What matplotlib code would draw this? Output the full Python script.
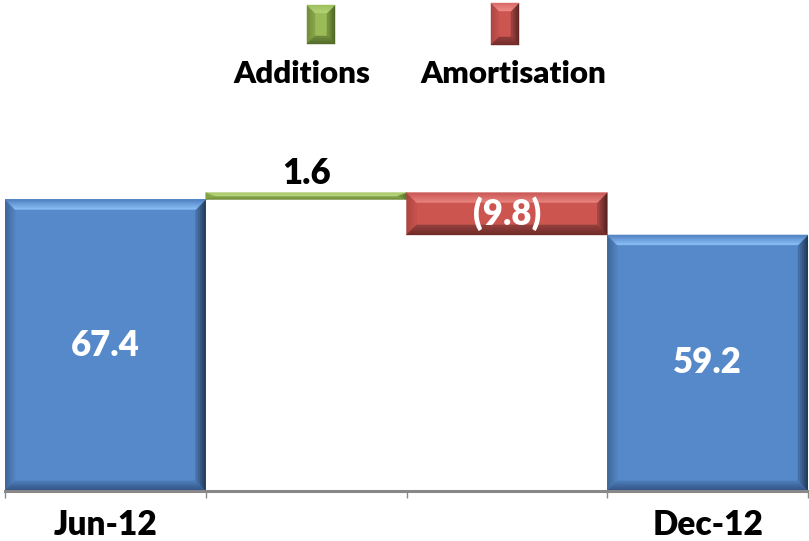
import matplotlib
matplotlib.use("Agg")
import matplotlib.pyplot as plt
import matplotlib.transforms as mtransforms
from matplotlib.patches import Polygon
from matplotlib.colors import to_rgb

# ---- data -------------------------------------------------------------
categories = ["Jun-12", "", "", "Dec-12"]
opening = 67.4
additions = 1.6
amortisation = -9.8
closing = 59.2
legend_labels = ["Additions", "Amortisation"]

FONT = ["Lato", "DejaVu Sans"]
WEIGHT = "heavy"
W, H = 809, 541

fig = plt.figure(figsize=(W / 100, H / 100), dpi=100)
ax = fig.add_axes([5 / W, 50 / H, 803 / W, 346 / H])


def mix(c1, c2, t):
    a, b = to_rgb(c1), to_rgb(c2)
    return tuple(a[i] + (b[i] - a[i]) * t for i in range(3))


def add_bevel(container, x0, y0, x1, y1, bx, by, sides, transform, n=5):
    """Overlay a bevelled frame on a rectangle (y axis pointing up)."""
    bx = min(bx, (x1 - x0) / 2)
    by = min(by, (y1 - y0) / 2)
    for i in range(n):
        a, b = i / n, (i + 1) / n
        for side, (outer, inner) in sides.items():
            col = mix(outer, inner, (i + 0.5) / n)
            if side == "top":
                pts = [(x0 + a * bx, y1 - a * by), (x1 - a * bx, y1 - a * by),
                       (x1 - b * bx, y1 - b * by), (x0 + b * bx, y1 - b * by)]
            elif side == "bottom":
                pts = [(x0 + a * bx, y0 + a * by), (x1 - a * bx, y0 + a * by),
                       (x1 - b * bx, y0 + b * by), (x0 + b * bx, y0 + b * by)]
            elif side == "left":
                pts = [(x0 + a * bx, y0 + a * by), (x0 + a * bx, y1 - a * by),
                       (x0 + b * bx, y1 - b * by), (x0 + b * bx, y0 + b * by)]
            else:
                pts = [(x1 - a * bx, y0 + a * by), (x1 - a * bx, y1 - a * by),
                       (x1 - b * bx, y1 - b * by), (x1 - b * bx, y0 + b * by)]
            p = Polygon(pts, closed=True, fc=col, ec=col, lw=0.3,
                        transform=transform, zorder=3)
            container.add_artist(p)


BLUE = "#5689C9"
RED = "#CC5550"
GREEN = "#9BBB59"

blue_sides = {"left": ("#3D6598", "#5283C2"), "right": ("#1E3554", "#4A77AE"),
              "bottom": ("#2F5080", "#4C7CB8"), "top": ("#4E80C0", "#8CC0F8")}
red_sides = {"left": ("#A84440", "#C6524E"), "right": ("#4E1C1A", "#A84845"),
             "bottom": ("#6E2A28", "#94403D"), "top": ("#C85854", "#E8847F")}
green_sides = {"left": ("#7E9C45", "#93B353"), "right": ("#55702A", "#86A548"),
               "bottom": ("#6E8A3A", "#86A548"), "top": ("#A8C86A", "#BAD67F")}

# ---- waterfall bars ---------------------------------------------------
x = list(range(len(categories)))
heights = [opening, additions, amortisation, closing]
bottoms = [0, opening, opening + additions, 0]
faces = [BLUE, GREEN, RED, BLUE]
side_sets = [blue_sides, green_sides, red_sides, blue_sides]

bars = ax.bar(x, heights, bottom=bottoms, width=1.0, color=faces,
              edgecolor="none", zorder=2)

units_per_px_x = 1.0 / 200.75
units_per_px_y = 80.0 / 346.0
for rect, sides in zip(bars, side_sets):
    rx0 = rect.get_x()
    rx1 = rx0 + rect.get_width()
    ry0 = min(rect.get_y(), rect.get_y() + rect.get_height())
    ry1 = max(rect.get_y(), rect.get_y() + rect.get_height())
    add_bevel(ax, rx0, ry0, rx1, ry1, 10 * units_per_px_x,
              10 * units_per_px_y, sides, ax.transData)

# ---- value labels -----------------------------------------------------
lab_kw = dict(ha="center", va="center", fontsize=25, fontweight=WEIGHT,
              family=FONT, zorder=5)
ax.text(0, opening / 2, f"{opening:.1f}", color="white", **lab_kw)
ax.text(1, opening + additions + 4.4, f"{additions:.1f}", color="black", **lab_kw)
ax.text(2, opening + additions + amortisation / 2, f"({abs(amortisation):.1f})",
        color="white", **lab_kw)
ax.text(3, closing / 2, f"{closing:.1f}", color="white", **lab_kw)

# ---- axes styling -----------------------------------------------------
ax.set_xlim(-0.5, len(categories) - 0.5)
ax.set_ylim(0, 80)
for s in ["top", "left", "right"]:
    ax.spines[s].set_visible(False)
ax.spines["bottom"].set_color("#888888")
ax.spines["bottom"].set_linewidth(2.2)
ax.spines["bottom"].set_zorder(4)
ax.set_yticks([])
ax.set_xticks(x)
ax.set_xticklabels(categories, fontsize=24, fontweight=WEIGHT, family=FONT)
ax.tick_params(axis="x", which="major", length=0, pad=13)
ax.set_xticks([i - 0.5 for i in range(len(categories) + 1)], minor=True)
ax.tick_params(axis="x", which="minor", length=5, width=1, color="#888888")
ax.patch.set_visible(False)

# ---- legend (swatches above labels) -----------------------------------
px = mtransforms.Affine2D().scale(1 / W, 1 / H) + fig.transFigure
swatches = [(307, 335, 5, 44, GREEN, 302),
            (491, 519, 3, 45, RED, 513)]
legend_green = {"left": ("#6E8A3A", "#86A548"), "right": ("#4A6124", "#7A9840"),
                "bottom": ("#4F6828", "#6E8A3A"), "top": ("#9EC05C", "#B2D274")}
legend_red = {"left": ("#A84440", "#C6524E"), "right": ("#5A2220", "#9E4442"),
              "bottom": ("#6E2A28", "#8E3C3A"), "top": ("#D86A66", "#EE8C88")}
for (sx0, sx1, sy0, sy1, face, tx), sides, label in zip(
        swatches, [legend_green, legend_red], legend_labels):
    y_lo, y_hi = H - sy1, H - sy0
    base = Polygon([(sx0, y_lo), (sx1, y_lo), (sx1, y_hi), (sx0, y_hi)],
                   closed=True, fc=face, ec="none", transform=px, zorder=2)
    fig.add_artist(base)
    add_bevel(fig, sx0, y_lo, sx1, y_hi, 8, 8, sides, px)
    fig.text(tx / W, (H - 83) / H, label, ha="center", va="baseline",
             fontsize=22.5, fontweight=WEIGHT, family=FONT)

fig.savefig("out.png", dpi=100)
